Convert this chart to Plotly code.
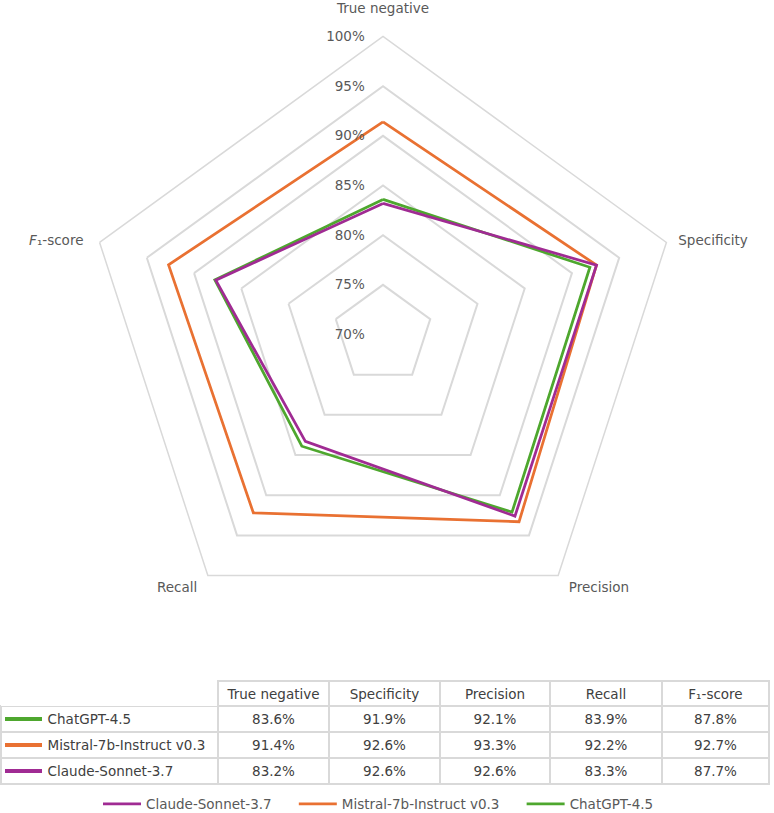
import plotly.graph_objects as go

W, H = 774, 813

categories = ["True negative", "Specificity", "Precision", "Recall", "<i>F</i>₁-score"]
table_headers = ["True negative", "Specificity", "Precision", "Recall", "F₁-score"]
series_names = ["ChatGPT-4.5", "Mistral-7b-Instruct v0.3", "Claude-Sonnet-3.7"]
chatgpt = [83.6, 91.9, 92.1, 83.9, 87.8]
mistral = [91.4, 92.6, 93.3, 92.2, 92.7]
claude = [83.2, 92.6, 92.6, 83.3, 87.7]
colors = ["#4EA72E", "#E97132", "#A02B93"]
radial_ticks = [70, 75, 80, 85, 90, 95, 100]

series_values = [chatgpt, mistral, claude]

def px(x):
    return x / W

def py(y):
    return 1 - y / H

NB = "\u00a0"
FONT = "DejaVu Sans, sans-serif"
FS = 13.5
fig = go.Figure()

for name, vals, col in zip(series_names, series_values, colors):
    fig.add_trace(go.Scatterpolar(
        r=vals + vals[:1],
        theta=categories + categories[:1],
        mode="lines",
        name=name + NB * 4,
        line=dict(color=col, width=2.75),
        subplot="polar",
        hoverinfo="skip",
    ))

grid = "#d9d9d9"
txt = "#595959"

# angular tick labels, padded with invisible spaces to sit like the reference
ang_text = [
    categories[0] + "<br>" + NB,
    NB * 2 + categories[1],
    NB * 2 + categories[2],
    categories[3] + NB * 2,
    categories[4] + NB * 3,
]

cx, cy, R = 383, 334.5, 298
fig.update_layout(
    width=W, height=H,
    margin=dict(l=0, r=0, t=0, b=0, autoexpand=False),
    paper_bgcolor="white",
    font=dict(family=FONT, size=FS, color=txt),
    polar=dict(
        domain=dict(x=[px(cx - R), px(cx + R)], y=[py(cy + R), py(cy - R)]),
        bgcolor="white",
        gridshape="linear",
        radialaxis=dict(
            range=[70, 100],
            tickvals=radial_ticks,
            ticktext=[f"{v}%" for v in radial_ticks],
            angle=90,
            side="counterclockwise",
            showline=False,
            ticks="outside",
            ticklen=13,
            tickcolor="rgba(0,0,0,0)",
            showgrid=True,
            gridcolor=grid,
            gridwidth=1.5,
            tickfont=dict(size=FS, color=txt),
            tickangle=90,
        ),
        angularaxis=dict(
            rotation=90,
            direction="clockwise",
            showgrid=False,
            showline=True,
            linecolor=grid,
            linewidth=1.5,
            ticks="",
            tickvals=categories,
            ticktext=ang_text,
            tickfont=dict(size=FS, color=txt),
        ),
    ),
    legend=dict(
        orientation="h",
        x=0.5, xanchor="center",
        y=py(804), yanchor="middle",
        traceorder="reversed",
        itemwidth=38,
        font=dict(size=FS, color=txt),
        bgcolor="rgba(0,0,0,0)",
    ),
)

# Data table (non-breaking spaces keep each label on one line)
header_vals = [""] + [h.replace(" ", NB) for h in table_headers]
first_col = [NB * 9 + n.replace(" ", NB) for n in series_names]
cell_cols = [first_col] + [[f"{s[i]:.1f}%" for s in series_values] for i in range(len(categories))]
table_txt = "#404040"
fig.add_trace(go.Table(
    domain=dict(x=[px(1), px(769)], y=[py(786), py(681)]),
    columnwidth=[217, 111, 111, 110, 112, 107],
    header=dict(
        values=header_vals,
        height=25,
        align="center",
        fill_color="white",
        line=dict(color=["rgba(0,0,0,0)"] + [grid] * 5, width=1.5),
        font=dict(size=FS, color=table_txt),
    ),
    cells=dict(
        values=cell_cols,
        height=26,
        align=["left"] + ["center"] * 5,
        fill_color="white",
        line=dict(color=grid, width=1.5),
        font=dict(size=FS, color=table_txt),
    ),
))

# legend keys inside the table
row_centers = [719, 745, 771]
for yc, col in zip(row_centers, colors):
    fig.add_shape(type="line", xref="paper", yref="paper",
                  x0=px(5), x1=px(42), y0=py(yc), y1=py(yc),
                  line=dict(color=col, width=4))

fig.write_html("out.html")
